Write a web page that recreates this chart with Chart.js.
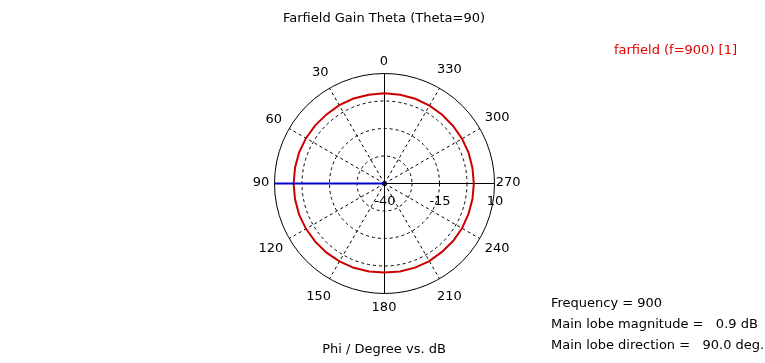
<!DOCTYPE html>
<html>
<head>
<meta charset="utf-8">
<title>Farfield Gain Theta (Theta=90)</title>
<script src="https://cdn.jsdelivr.net/npm/chart.js@4.4.1/dist/chart.umd.min.js"></script>
<style>
  html, body { margin: 0; padding: 0; background: #fff; }
  canvas { display: block; }
</style>
</head>
<body>
<canvas id="farfield" width="765" height="363"></canvas>
<script>
// Phi (deg) and gain (dB)
const phiDeg = [0, 10, 20, 30, 40, 50, 60, 70, 80, 90, 100, 110, 120, 130, 140, 150, 160, 170,
  180, 190, 200, 210, 220, 230, 240, 250, 260, 270, 280, 290, 300, 310, 320, 330, 340, 350];
const gainDb = [1.0, 1.0, 1.1, 1.1, 1.0, 1.1, 1.2, 1.3, 1.3, 1.3, 1.3, 1.3, 1.2, 1.1, 1.0, 0.9, 0.8, 0.6,
  0.5, 0.6, 0.7, 0.7, 0.6, 0.7, 0.7, 0.6, 0.6, 0.6, 0.6, 0.7, 0.7, 0.7, 0.8, 0.9, 1.0, 1.0];

// axis labels
const angleTickLabels = [0, 30, 60, 90, 120, 150, 180, 210, 240, 270, 300, 330];
const radialTickLabels = [-40, -15, 10];
const radialMin = -40;
const radialMax = 10;
const radialStep = 12.5;

// main lobe marker
const mainLobePhi = 90;

// texts
const titleText = "Farfield Gain Theta (Theta=90)";
const legendText = "farfield (f=900) [1]";
const axisTitle = "Phi / Degree vs. dB";
const infoLines = ["Frequency = 900", "Main lobe magnitude =   0.9 dB", "Main lobe direction =   90.0 deg."];

const FONT = '13px "DejaVu Sans", Tahoma, sans-serif';

// radar goes clockwise, the plot counter-clockwise -> reorder
const n = phiDeg.length;
const radarPhi = phiDeg.map((p, i) => phiDeg[(n - i) % n]);
const radarGain = phiDeg.map((p, i) => gainDb[(n - i) % n]);
const lobeLine = radarPhi.map(p => {
  if (p === mainLobePhi) return radialMax;
  if (p === (mainLobePhi + 180) % 360) return radialMin;
  return null;
});

// half pixel shift so the 1px axis lines stay sharp
const pixelAlign = {
  id: "pixelAlign",
  beforeDraw(chart) {
    chart.ctx.save();
    chart.ctx.translate(0.5, 0.5);
  },
  afterDraw(chart) {
    chart.ctx.restore();
  }
};

// labels, titles and info text
const textPlugin = {
  id: "farfieldText",
  afterDraw(chart) {
    const ctx = chart.ctx;
    const r = chart.scales.r;
    ctx.save();
    ctx.font = FONT;
    ctx.fillStyle = "#000";
    ctx.textAlign = "center";
    ctx.textBaseline = "middle";

    ctx.fillText(titleText, r.xCenter, 19);
    ctx.fillText(axisTitle, r.xCenter, 350);

    // angle labels around the outer ring
    angleTickLabels.forEach(phi => {
      const idx = radarPhi.indexOf(phi);
      const hw = ctx.measureText(String(phi)).width / 2;
      const a = phi * Math.PI / 180;
      const dist = r.drawingArea + 10.5 + hw * (0.3 + 0.6 * Math.abs(Math.sin(2 * a)));
      const pos = r.getPointPosition(idx, dist);
      ctx.fillText(String(phi), pos.x, pos.y);
    });

    // dB labels under the horizontal axis
    radialTickLabels.forEach(v => {
      ctx.fillText(String(v), r.xCenter + r.getDistanceFromCenterForValue(v) + 1, r.yCenter + 19);
    });

    ctx.textAlign = "right";
    ctx.fillStyle = "#e00000";
    ctx.fillText(legendText, 737, 51);

    ctx.textAlign = "left";
    ctx.fillStyle = "#000";
    infoLines.forEach((t, i) => ctx.fillText(t, 551, 304 + i * 21));
    ctx.restore();
  }
};

new Chart(document.getElementById("farfield"), {
  type: "radar",
  data: {
    labels: radarPhi,
    datasets: [
      {
        label: "main lobe",
        data: lobeLine,
        borderColor: "#0000cc",
        borderWidth: 2,
        pointRadius: 0,
        spanGaps: true,
        fill: false,
        order: 0
      },
      {
        label: legendText,
        data: radarGain,
        borderColor: "#cc0000",
        borderWidth: 2,
        pointRadius: 0,
        fill: false,
        order: 1
      }
    ]
  },
  options: {
    responsive: false,
    animation: false,
    layout: { padding: { left: 274, right: 270, top: 73, bottom: 69 } },
    plugins: {
      legend: { display: false },
      tooltip: { enabled: false }
    },
    scales: {
      r: {
        min: radialMin,
        max: radialMax,
        ticks: { display: false, stepSize: radialStep },
        pointLabels: { display: false },
        grid: { circular: true, color: "#000", lineWidth: 1 },
        border: { dash: ctx => (ctx.tick && ctx.tick.value === radialMax ? [] : [3, 3]) },
        angleLines: {
          color: "#000",
          lineWidth: ctx => (radarPhi[ctx.index] % 30 === 0 ? 1 : 0),
          borderDash: ctx => (radarPhi[ctx.index] % 90 === 0 ? [] : [3, 3])
        }
      }
    }
  },
  plugins: [pixelAlign, textPlugin]
});
</script>
</body>
</html>
